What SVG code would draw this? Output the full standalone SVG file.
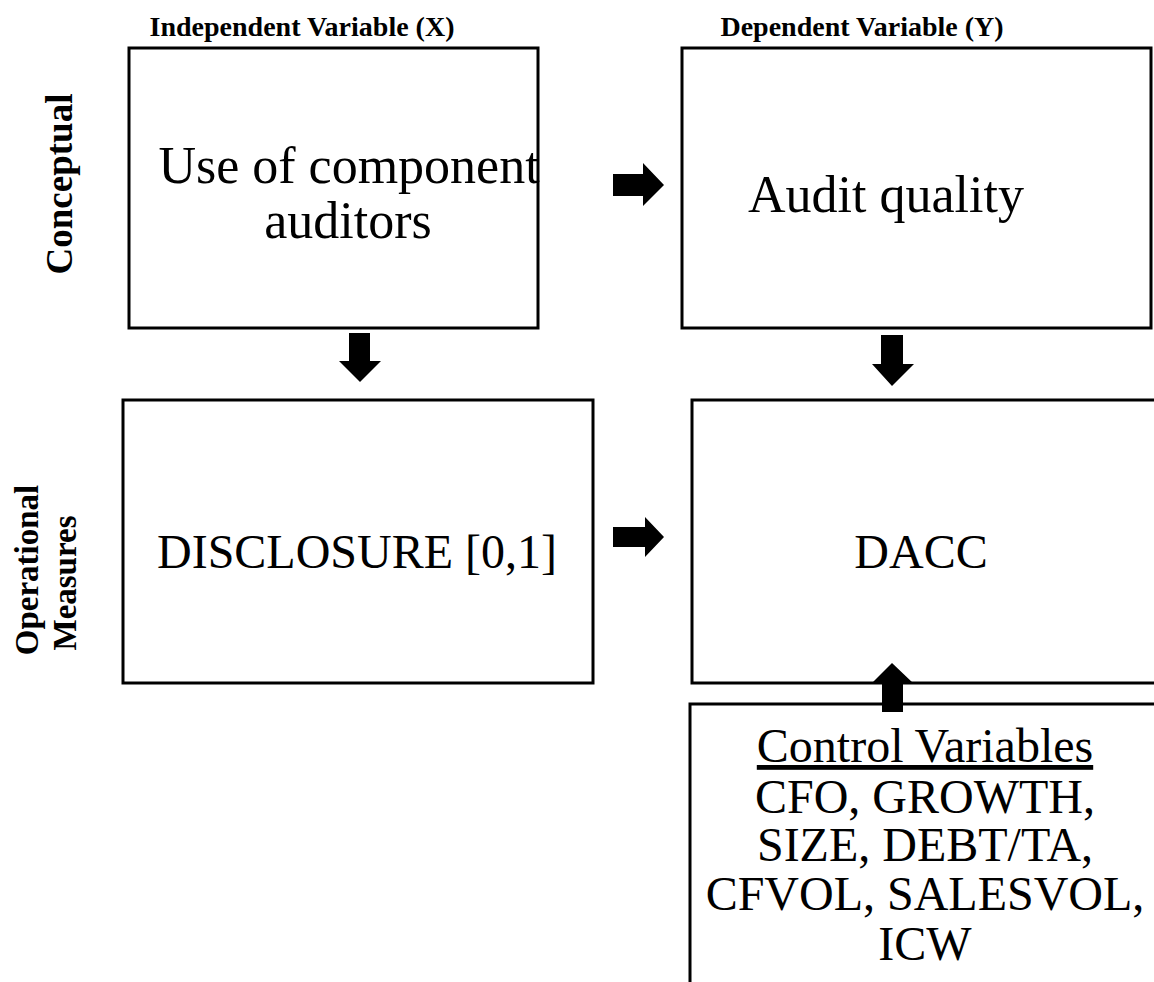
<svg xmlns="http://www.w3.org/2000/svg" width="1154" height="982" viewBox="0 0 1154 982">
  <style>
    .box { fill: #ffffff; stroke: #000000; stroke-width: 3; }
    .body { font-family: "Liberation Serif", "Times New Roman", serif; font-size: 48px; fill: #000000; text-anchor: middle; }
    .big { font-size: 52px; }
    .head { font-family: "Liberation Serif", "Times New Roman", serif; font-size: 28px; font-weight: bold; fill: #000000; text-anchor: middle; }
    .side { font-family: "Liberation Serif", "Times New Roman", serif; font-size: 33px; font-weight: bold; fill: #000000; text-anchor: middle; }
    .arrow { fill: #000000; stroke: none; }
  </style>
  <rect width="1154" height="982" fill="#ffffff"/>

  <!-- column headings -->
  <g id="headings">
    <text class="head" x="302" y="36">Independent Variable (X)</text>
    <text class="head" x="862" y="36">Dependent Variable (Y)</text>
  </g>

  <!-- row labels, rotated -->
  <g id="row-labels">
    <text class="side" style="font-size:37px" transform="translate(72,184) rotate(-90)">Conceptual</text>
    <text class="side" transform="translate(38,570) rotate(-90)">Operational</text>
    <text class="side" transform="translate(76,583) rotate(-90)">Measures</text>
  </g>

  <g id="node-use-of-component-auditors">
    <rect class="box" x="129" y="48" width="409" height="280"/>
    <text class="body big" x="349" y="183">Use of component</text>
    <text class="body big" x="348" y="238">auditors</text>
  </g>

  <g id="node-audit-quality">
    <rect class="box" x="682" y="48" width="469" height="280"/>
    <text class="body big" x="886" y="212">Audit quality</text>
  </g>

  <g id="node-disclosure">
    <rect class="box" x="123" y="400" width="470" height="283"/>
    <text class="body" x="357" y="568">DISCLOSURE [0,1]</text>
  </g>

  <g id="node-dacc">
    <rect class="box" x="692" y="400" width="470" height="283"/>
    <text class="body" x="921" y="568">DACC</text>
  </g>

  <g id="node-control-variables">
    <rect class="box" x="690" y="704" width="480" height="300"/>
    <text class="body" x="925" y="762" text-decoration="underline">Control Variables</text>
    <text class="body" x="925" y="813">CFO, GROWTH,</text>
    <text class="body" x="925" y="861">SIZE, DEBT/TA,</text>
    <text class="body" x="925" y="910">CFVOL, SALESVOL,</text>
    <text class="body" x="925" y="960">ICW</text>
  </g>

  <!-- block arrows -->
  <g id="connectors">
    <polygon class="arrow" points="613,174 643,174 643,163 664,185 643,206 643,196 613,196"/>
    <polygon class="arrow" points="613,527 645,527 645,517 664,537 645,557 645,547 613,547"/>
    <polygon class="arrow" points="349,333 370,333 370,361 381,361 360,382 339,361 349,361"/>
    <polygon class="arrow" points="881,335 903,335 903,364 914,364 892,386 872,364 881,364"/>
    <polygon class="arrow" points="882,712 903,712 903,683 913,683 892,663 872,683 882,683"/>
  </g>
</svg>
